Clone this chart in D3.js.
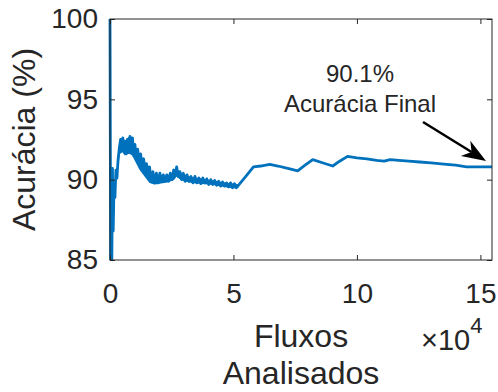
<!DOCTYPE html>
<html lang="pt">
  <head>
    <meta charset="UTF-8" />
    <title>Acurácia</title>
    <style>
      body { margin: 0; background: #fff; }
      text { font-family: "Liberation Sans", Arial, Helvetica, sans-serif; fill: #262626; }
    </style>
  </head>
  <body>
    <svg width="498" height="392"></svg>
    <script src="https://cdnjs.cloudflare.com/ajax/libs/d3/7.8.5/d3.min.js"></script>
    <script>
      // fluxos analisados (x) e acuracia em % (y)
      var flows = [0, 300, 700, 1000, 1300, 1600, 2000, 2400, 2800, 3300, 3800, 4300, 4700, 5200, 5600, 6100, 6600, 7100, 7600, 8100, 8600, 9100, 9600, 10100, 10600, 11200, 11800, 12400, 13000, 13600, 14200, 14800, 15400, 16000, 16700, 17400, 18100, 18800, 19500, 20200, 20900, 21600, 22300, 23000, 23700, 24400, 25100, 25800, 26500, 27000, 27600, 28300, 29000, 29700, 30400, 31200, 32000, 32800, 33600, 34400, 35200, 36000, 36800, 37600, 38400, 39200, 40000, 40800, 41600, 42400, 43200, 44000, 44800, 45600, 46400, 47200, 48000, 48800, 49600, 50400, 51200, 52000, 55000, 58100, 61000, 64700, 68000, 72000, 76000, 79000, 82100, 86000, 90200, 93000, 96200, 100000, 104000, 108000, 111000, 113500, 117000, 121000, 125400, 130000, 136300, 140000, 144400, 149000, 154700];
      var accuracy = [100, 83, 84, 90.7, 86.8, 89.5, 88.9, 90.6, 90.1, 91.3, 92.0, 92.5, 92.1, 92.6, 91.8, 92.4, 91.6, 92.5, 91.9, 92.7, 91.8, 92.6, 91.5, 92.2, 91.3, 91.9, 91.0, 91.6, 90.7, 91.3, 90.5, 91.0, 90.2, 90.8, 89.9, 90.5, 89.8, 90.4, 89.8, 90.4, 89.9, 90.3, 89.9, 90.3, 89.9, 90.4, 90.0, 90.6, 90.3, 90.8, 90.2, 90.5, 90.0, 90.4, 89.9, 90.3, 89.9, 90.2, 89.8, 90.2, 89.8, 90.1, 89.75, 90.1, 89.8, 90.05, 89.7, 90.0, 89.7, 89.95, 89.65, 89.9, 89.6, 89.85, 89.6, 89.8, 89.55, 89.8, 89.5, 89.75, 89.5, 89.65, 90.2, 90.8, 90.85, 90.95, 90.85, 90.7, 90.55, 90.9, 91.25, 91.05, 90.85, 91.15, 91.45, 91.35, 91.3, 91.2, 91.15, 91.25, 91.2, 91.15, 91.1, 91.05, 90.95, 90.9, 90.8, 90.8, 90.8];

      // faixa de oscilacao no inicio (minimo e maximo)
      var bandFlows = [3000, 4000, 5000, 6000, 7000, 8000, 9000, 10000, 11000, 12000, 13000, 14000, 15000, 16000, 18000, 20000, 22000, 24000, 26000, 27000, 28000, 30000, 33000, 36000, 40000, 44000, 48000, 51000, 52000];
      var bandLow = [90.3, 91.6, 91.7, 91.5, 91.6, 91.6, 91.5, 91.2, 90.9, 90.6, 90.4, 90.2, 90.0, 89.8, 89.7, 89.75, 89.8, 89.85, 90.0, 90.2, 90.05, 89.9, 89.8, 89.75, 89.7, 89.6, 89.5, 89.45, 89.5];
      var bandHigh = [91.0, 92.5, 92.6, 92.4, 92.6, 92.7, 92.5, 92.2, 91.8, 91.5, 91.2, 90.9, 90.7, 90.5, 90.3, 90.3, 90.25, 90.3, 90.55, 90.75, 90.5, 90.35, 90.15, 90.1, 90.0, 89.9, 89.8, 89.75, 89.7];

      var xTicks = [0, 50000, 100000, 150000];
      var yTicks = [85, 90, 95, 100];

      var svg = d3.select("svg");
      var mLeft = 110, mRight = 492, mTop = 19, mBottom = 260;

      var x = d3.scaleLinear().domain([0, 154700]).range([mLeft, mRight]);
      var y = d3.scaleLinear().domain([85, 100]).range([mBottom, mTop]);

      var data = flows.map(function (f, i) {
        return { f: f, a: accuracy[i] };
      });
      var band = bandFlows.map(function (f, i) {
        return { f: f, lo: bandLow[i], hi: bandHigh[i] };
      });

      svg.append("clipPath")
        .attr("id", "clip")
        .append("rect")
        .attr("x", mLeft - 2)
        .attr("y", mTop - 2)
        .attr("width", mRight - mLeft + 4)
        .attr("height", mBottom - mTop + 2);

      var area = d3.area()
        .x(function (d) { return x(d.f); })
        .y0(function (d) { return y(d.lo); })
        .y1(function (d) { return y(d.hi); });

      svg.append("path")
        .datum(band)
        .attr("fill", "#0072BD")
        .attr("d", area);

      var line = d3.line()
        .x(function (d) { return x(d.f); })
        .y(function (d) { return y(d.a); });

      svg.append("path")
        .datum(data)
        .attr("clip-path", "url(#clip)")
        .attr("fill", "none")
        .attr("stroke", "#0072BD")
        .attr("stroke-width", 2.8)
        .attr("stroke-linejoin", "round")
        .attr("d", line);

      // eixos (caixa com ticks para dentro)
      var fmtX = function (d) { return d / 1e4; };
      svg.append("g")
        .attr("transform", "translate(0," + mBottom + ")")
        .call(d3.axisBottom(x).tickValues(xTicks).tickFormat(fmtX).tickSizeInner(-5).tickSizeOuter(0).tickPadding(23));
      svg.append("g")
        .attr("transform", "translate(" + mLeft + ",0)")
        .call(d3.axisLeft(y).tickValues(yTicks).tickSizeInner(-5).tickSizeOuter(0).tickPadding(12));
      svg.append("g")
        .attr("transform", "translate(0," + mTop + ")")
        .call(d3.axisTop(x).tickValues(xTicks).tickFormat("").tickSizeInner(-5).tickSizeOuter(0));
      svg.append("g")
        .attr("transform", "translate(" + mRight + ",0)")
        .call(d3.axisRight(y).tickValues(yTicks).tickFormat("").tickSizeInner(-5).tickSizeOuter(0));

      svg.selectAll(".domain").remove();
      svg.selectAll(".tick line").attr("stroke", "#262626");
      svg.selectAll(".tick text").attr("font-size", 28).attr("fill", "#262626")
        .style("font-family", '"Liberation Sans", Arial, sans-serif');

      svg.append("rect")
        .attr("x", mLeft).attr("y", mTop)
        .attr("width", mRight - mLeft).attr("height", mBottom - mTop)
        .attr("fill", "none").attr("stroke", "#262626").attr("stroke-width", 1);

      // rotulos
      svg.append("text")
        .attr("transform", "translate(35," + (mTop + mBottom) / 2 + ") rotate(-90)")
        .attr("text-anchor", "middle")
        .attr("font-size", 32)
        .text("Acurácia (%)");

      svg.append("text")
        .attr("x", (mLeft + mRight) / 2).attr("y", 347)
        .attr("text-anchor", "middle").attr("font-size", 32)
        .text("Fluxos");
      svg.append("text")
        .attr("x", (mLeft + mRight) / 2).attr("y", 384)
        .attr("text-anchor", "middle").attr("font-size", 32)
        .text("Analisados");

      var expo = svg.append("text").attr("x", 421).attr("y", 350).attr("font-size", 29);
      expo.append("tspan").text("×10");
      expo.append("tspan").attr("font-size", 22).attr("dy", -17).text("4");

      // anotacao
      svg.append("text")
        .attr("x", 360).attr("y", 82)
        .attr("text-anchor", "middle").attr("font-size", 24)
        .text("90.1%");
      svg.append("text")
        .attr("x", 360).attr("y", 112)
        .attr("text-anchor", "middle").attr("font-size", 24)
        .text("Acurácia Final");

      var a0 = [423, 122], a1 = [486, 161];
      var dx = a1[0] - a0[0], dy = a1[1] - a0[1], len = Math.sqrt(dx * dx + dy * dy);
      var ux = dx / len, uy = dy / len, nx = -uy, ny = ux;
      var hl = 24, hw = 9, notch = 17;
      svg.append("line")
        .attr("x1", a0[0]).attr("y1", a0[1])
        .attr("x2", a1[0] - ux * notch).attr("y2", a1[1] - uy * notch)
        .attr("stroke", "#000").attr("stroke-width", 2.5);
      svg.append("polygon")
        .attr("fill", "#000")
        .attr("points", [
          [a1[0], a1[1]],
          [a1[0] - ux * hl + nx * hw, a1[1] - uy * hl + ny * hw],
          [a1[0] - ux * notch, a1[1] - uy * notch],
          [a1[0] - ux * hl - nx * hw, a1[1] - uy * hl - ny * hw]
        ].map(function (p) { return p.join(","); }).join(" "));
    </script>
  </body>
</html>
